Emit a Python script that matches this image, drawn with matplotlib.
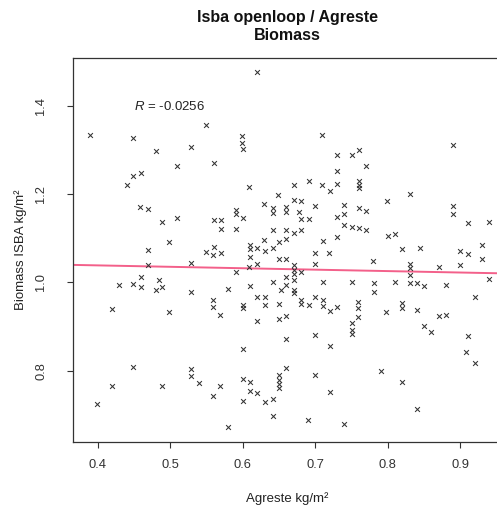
import numpy as np
import matplotlib
matplotlib.use('Agg')
import matplotlib.pyplot as plt

plt.rcParams['font.family'] = ['Liberation Sans', 'DejaVu Sans']
plt.rcParams['mathtext.fontset'] = 'custom'
plt.rcParams['mathtext.it'] = 'Liberation Sans:italic'
plt.rcParams['mathtext.rm'] = 'Liberation Sans'

# values
agreste = [0.619, 0.389, 0.449, 0.549, 0.480, 0.529, 0.599, 0.599, 0.600, 0.560,
           0.509, 0.460, 0.449, 0.440, 0.459, 0.469, 0.489, 0.510, 0.560, 0.570,
           0.499, 0.470, 0.550, 0.560, 0.709, 0.730, 0.750, 0.760, 0.730, 0.770,
           0.890, 0.609, 0.649, 0.670, 0.691, 0.709, 0.730, 0.720, 0.760, 0.760,
           0.760, 0.830, 0.799, 0.629, 0.641, 0.641, 0.660, 0.660, 0.670, 0.680,
           0.678, 0.699, 0.740, 0.730, 0.740, 0.760, 0.770, 0.890, 0.890, 0.911,
           0.940, 0.590, 0.590, 0.600, 0.570, 0.590, 0.680, 0.691, 0.740, 0.750,
           0.760, 0.770, 0.641, 0.659, 0.670, 0.680, 0.800, 0.810, 0.660, 0.650,
           0.629, 0.710, 0.730, 0.610, 0.610, 0.620, 0.630, 0.641, 0.820, 0.844,
           0.899, 0.930, 0.911, 0.559, 0.570,
           0.610, 0.619, 0.609, 0.590, 0.650, 0.660, 0.670, 0.670, 0.670, 0.680,
           0.700, 0.719, 0.700, 0.660, 0.670, 0.641, 0.610, 0.580, 0.660, 0.653,
           0.670, 0.670, 0.710, 0.750, 0.619, 0.630, 0.630, 0.650, 0.680, 0.680,
           0.691, 0.700, 0.710, 0.710, 0.720, 0.730, 0.559, 0.559, 0.600, 0.600,
           0.569, 0.619, 0.650, 0.660, 0.750, 0.750, 0.750, 0.660, 0.700, 0.720,
           0.600, 0.660, 0.700, 0.650, 0.650, 0.650, 0.650, 0.600, 0.610, 0.569,
           0.610, 0.620, 0.720, 0.559, 0.600, 0.630, 0.641, 0.641, 0.690, 0.739,
           0.580,
           0.469, 0.529, 0.460, 0.430, 0.449, 0.460, 0.484, 0.489, 0.480, 0.529,
           0.420, 0.499, 0.449, 0.529, 0.529, 0.540, 0.420, 0.489, 0.399,
           0.780, 0.830, 0.830, 0.830, 0.830, 0.899, 0.870, 0.940, 0.930, 0.781,
           0.781, 0.810, 0.840, 0.850, 0.880, 0.920, 0.759, 0.759, 0.759, 0.820,
           0.820, 0.798, 0.840, 0.870, 0.880, 0.850, 0.860, 0.911, 0.908, 0.920,
           0.790, 0.820, 0.840]
isba = [1.477, 1.335, 1.328, 1.357, 1.299, 1.308, 1.332, 1.316, 1.302, 1.271,
        1.263, 1.249, 1.241, 1.222, 1.171, 1.167, 1.138, 1.145, 1.141, 1.141,
        1.091, 1.074, 1.070, 1.080, 1.334, 1.288, 1.288, 1.300, 1.252, 1.265,
        1.311, 1.216, 1.198, 1.222, 1.229, 1.222, 1.223, 1.207, 1.231, 1.222,
        1.214, 1.201, 1.185, 1.179, 1.169, 1.157, 1.172, 1.159, 1.187, 1.185,
        1.160, 1.173, 1.176, 1.149, 1.156, 1.168, 1.161, 1.173, 1.156, 1.134,
        1.138, 1.165, 1.155, 1.146, 1.122, 1.122, 1.143, 1.143, 1.130, 1.125,
        1.123, 1.119, 1.118, 1.118, 1.112, 1.120, 1.105, 1.110, 1.098, 1.092,
        1.096, 1.094, 1.104, 1.086, 1.076, 1.077, 1.072, 1.078, 1.076, 1.077,
        1.071, 1.085, 1.065, 1.063, 1.067,
        1.057, 1.042, 1.034, 1.023, 1.053, 1.054, 1.039, 1.029, 1.020, 1.024,
        1.066, 1.066, 1.042, 1.012, 1.005, 1.001, 0.991, 0.984, 0.994, 0.982,
        0.983, 0.976, 1.002, 1.002, 0.967, 0.967, 0.949, 0.952, 0.960, 0.950,
        0.949, 0.967, 0.961, 0.946, 0.936, 0.944, 0.961, 0.944, 0.948, 0.941,
        0.926, 0.912, 0.918, 0.923, 0.908, 0.891, 0.884, 0.872, 0.881, 0.855,
        0.850, 0.806, 0.790, 0.790, 0.778, 0.770, 0.761, 0.780, 0.773, 0.766,
        0.754, 0.749, 0.751, 0.742, 0.732, 0.728, 0.736, 0.698, 0.688, 0.678,
        0.671,
        1.039, 1.045, 1.012, 0.995, 0.997, 0.989, 1.005, 0.990, 0.982, 0.978,
        0.940, 0.934, 0.808, 0.804, 0.787, 0.772, 0.764, 0.764, 0.725,
        1.048, 1.042, 1.032, 1.016, 0.998, 1.040, 1.034, 1.008, 1.054, 0.998,
        0.979, 1.001, 0.998, 0.993, 0.995, 0.968, 0.956, 0.941, 0.922, 0.954,
        0.941, 0.934, 0.937, 0.924, 0.926, 0.902, 0.888, 0.879, 0.842, 0.818,
        0.800, 0.774, 0.713]

r_value = -0.0256
fit_intercept = 1.0516
fit_slope = -0.0324

fig = plt.figure(figsize=(4.97, 5.08), dpi=100)
ax = fig.add_axes([0.1469, 0.1299, 0.8612, 0.7559])

ax.scatter(agreste, isba, marker='x', s=12, linewidths=0.75, color='#333333', zorder=3)
ax.axline((0, fit_intercept), slope=fit_slope, color='#f3608a', lw=1.4, zorder=2)

ax.text(0.45, 1.4, '$R$ = %.4f' % r_value, ha='left', va='center', fontsize=9.5, color='#222222')

ax.set_xlim(0.366, 0.956)
ax.set_ylim(0.638, 1.509)
ax.set_xticks([0.4, 0.5, 0.6, 0.7, 0.8, 0.9])
ax.set_yticks([0.8, 1.0, 1.2, 1.4])
ax.set_xticklabels(['0.4', '0.5', '0.6', '0.7', '0.8', '0.9'])
ax.set_yticklabels(['0.8', '1.0', '1.2', '1.4'], rotation=90, va='center')
ax.tick_params(direction='out', length=4.5, width=0.8, colors='#333333', labelsize=9.3,
               labelcolor='#333333')
ax.tick_params(axis='x', pad=8)
ax.tick_params(axis='y', pad=14)
for sp in ax.spines.values():
    sp.set_color('#333333')
    sp.set_linewidth(0.9)

ax.set_xlabel('Agreste kg/m²', fontsize=9.5, color='#222222', labelpad=15)
ax.set_ylabel('Biomass ISBA kg/m²', fontsize=9.5, color='#222222', labelpad=6)
fig.text(0.5775, 0.966, 'Isba openloop / Agreste', ha='center', va='center',
         fontsize=11.5, fontweight='bold', color='#111111')
fig.text(0.5775, 0.931, 'Biomass', ha='center', va='center',
         fontsize=11.5, fontweight='bold', color='#111111')

fig.savefig('out.png', dpi=100)
